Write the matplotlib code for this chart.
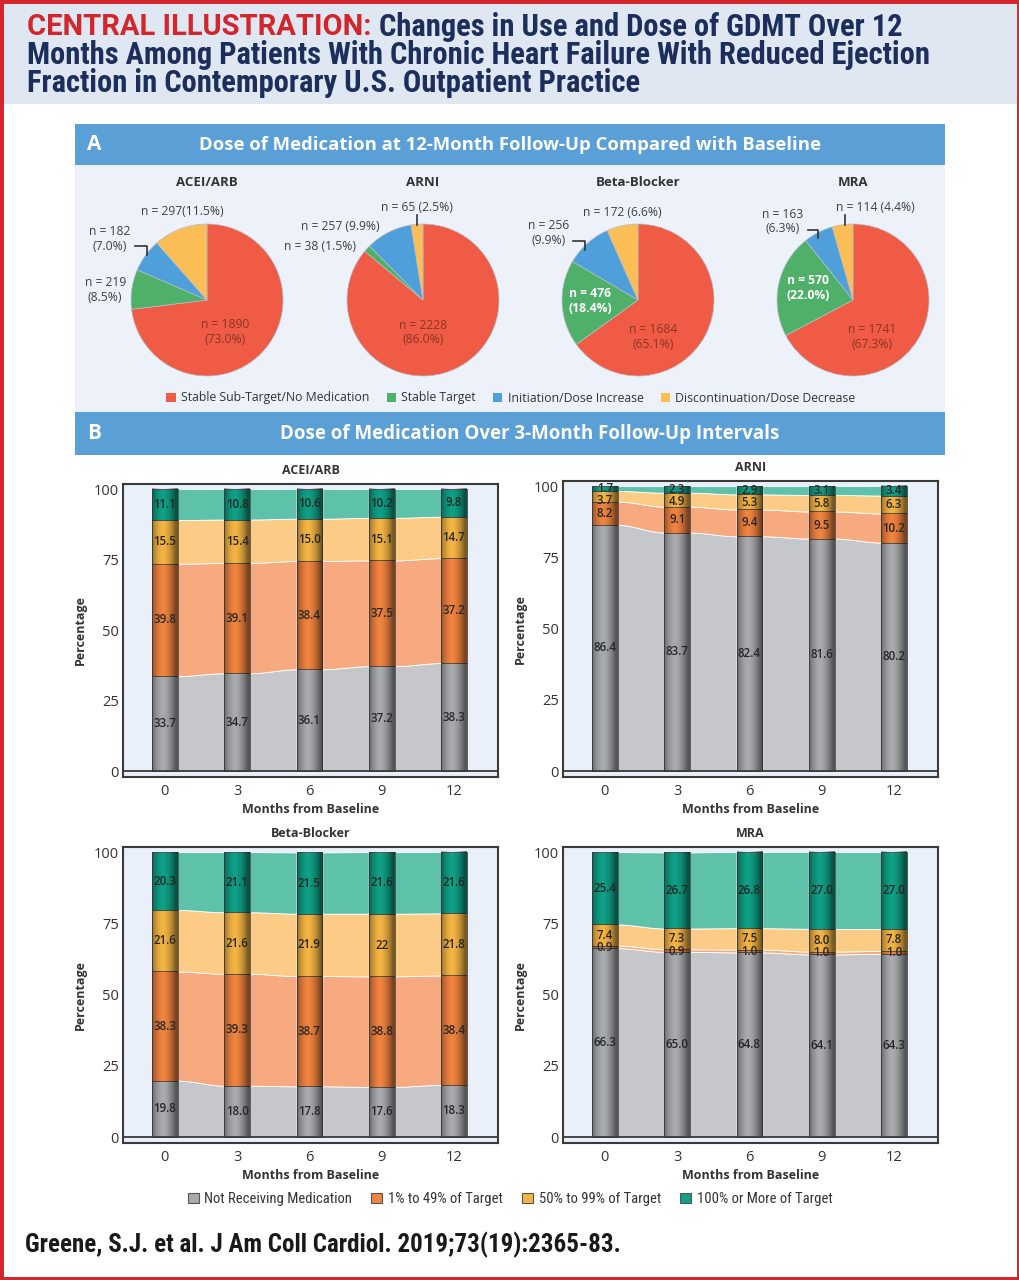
import numpy as np
import matplotlib
matplotlib.use('Agg')
import matplotlib.pyplot as plt
from matplotlib.patches import Rectangle, Patch
from matplotlib import font_manager

# fonts
installed = {f.name for f in font_manager.fontManager.ttflist}
COND = 'Roboto'
for name in ['Roboto Condensed', 'Liberation Sans Narrow', 'Open Sans Condensed']:
    if name in installed:
        COND = name
        break
plt.rcParams['font.family'] = ['Open Sans', 'DejaVu Sans']

W, H = 1020, 1280

# ---- Panel A data (pies) ----
pie_names = ['ACEI/ARB', 'ARNI', 'Beta-Blocker', 'MRA']
pie_cats = ['Stable Sub-Target/No Medication', 'Stable Target',
            'Initiation/Dose Increase', 'Discontinuation/Dose Decrease']
acei_n = [1890, 219, 182, 297]
arni_n = [2228, 38, 257, 65]
beta_n = [1684, 476, 256, 172]
mra_n = [1741, 570, 163, 114]
acei_pct = [73.0, 8.5, 7.0, 11.5]
arni_pct = [86.0, 1.5, 9.9, 2.5]
beta_pct = [65.1, 18.4, 9.9, 6.6]
mra_pct = [67.3, 22.0, 6.3, 4.4]

# ---- Panel B data (stacked bars) ----
months = [0, 3, 6, 9, 12]
bar_cats = ['Not Receiving Medication', '1% to 49% of Target',
            '50% to 99% of Target', '100% or More of Target']
acei_none = [33.7, 34.7, 36.1, 37.2, 38.3]
acei_low = [39.8, 39.1, 38.4, 37.5, 37.2]
acei_mid = [15.5, 15.4, 15.0, 15.1, 14.7]
acei_full = [11.1, 10.8, 10.6, 10.2, 9.8]
arni_none = [86.4, 83.7, 82.4, 81.6, 80.2]
arni_low = [8.2, 9.1, 9.4, 9.5, 10.2]
arni_mid = [3.7, 4.9, 5.3, 5.8, 6.3]
arni_full = [1.7, 2.3, 2.9, 3.1, 3.4]
beta_none = [19.8, 18.0, 17.8, 17.6, 18.3]
beta_low = [38.3, 39.3, 38.7, 38.8, 38.4]
beta_mid = [21.6, 21.6, 21.9, 22, 21.8]
beta_full = [20.3, 21.1, 21.5, 21.6, 21.6]
mra_none = [66.3, 65.0, 64.8, 64.1, 64.3]
mra_low = [0.9, 0.9, 1.0, 1.0, 1.0]
mra_mid = [7.4, 7.3, 7.5, 8.0, 7.8]
mra_full = [25.4, 26.7, 26.8, 27.0, 27.0]

pie_colors = ['#ef5b45', '#4fb06a', '#4f9fdb', '#fbbd55']
bar_colors = ['#a9aaae', '#f0833f', '#f4b443', '#0fa085']
flow_colors = ['#c6c7cb', '#f7a97f', '#fccb85', '#5ec2ab']
navy = '#1c2f5c'
red = '#d2262c'
band = '#5a9fd6'


def fbox(x0, y0, x1, y1):
    return [x0 / W, 1 - y1 / H, (x1 - x0) / W, (y1 - y0) / H]


def ftext(x, y, s, **kw):
    return fig.text(x / W, 1 - y / H, s, **kw)


def fig_rect(x0, y0, x1, y1, color):
    fig.patches.append(Rectangle((x0 / W, 1 - y1 / H), (x1 - x0) / W, (y1 - y0) / H,
                                 transform=fig.transFigure, facecolor=color,
                                 edgecolor='none', zorder=-5))


fig = plt.figure(figsize=(10.2, 12.8), dpi=100)
fig.patch.set_facecolor('white')

# header
fig_rect(0, 0, W, 104, '#dfe7f2')
HS = 22
t1 = ftext(27, 27, 'CENTRAL ILLUSTRATION: ', color=red, fontsize=21,
           fontweight='bold', family='Roboto', va='center')
fig.canvas.draw()
bb = t1.get_window_extent(fig.canvas.get_renderer())
ftext(bb.x1, 27, 'Changes in Use and Dose of GDMT Over 12', color=navy,
      fontsize=HS, fontweight='bold', family=COND, va='center')
ftext(27, 55, 'Months Among Patients With Chronic Heart Failure With Reduced Ejection',
      color=navy, fontsize=HS, fontweight='bold', family=COND, va='center')
ftext(27, 83, 'Fraction in Contemporary U.S. Outpatient Practice',
      color=navy, fontsize=HS, fontweight='bold', family=COND, va='center')

# panel A background and bands
fig_rect(75, 124, 945, 412, '#edf2fa')
for y0, y1, letter, title, tx, fs in [(124, 165, 'A', 'Dose of Medication at 12-Month Follow-Up Compared with Baseline', 510, 13.3),
                                      (412, 455, 'B', 'Dose of Medication Over 3-Month Follow-Up Intervals', 530, 13.5)]:
    fig_rect(75, y0, 945, y1, band)
    ftext(87, (y0 + y1) / 2, letter, color='white', fontsize=15, fontweight='bold', va='center')
    ftext(tx, (y0 + y1) / 2, title, color='white', fontsize=fs, fontweight='bold',
          va='center', ha='center')

# ---- pies ----
pie_n = [acei_n, arni_n, beta_n, mra_n]
pie_p = [acei_pct, arni_pct, beta_pct, mra_pct]
centers = [207, 423, 638, 853]
R = 76
# label offsets in pie radii (dx, dy) for each slice
label_pos = [
    [(0.24, -0.42), (-1.34, 0.13), (-1.28, 0.80), (-0.33, 1.16)],
    [(0.0, -0.43), (-1.36, 0.70), (-1.09, 0.97), (-0.08, 1.22)],
    [(0.2, -0.49), (-0.63, -0.01), (-1.18, 0.88), (-0.21, 1.15)],
    [(0.25, -0.49), (-0.59, 0.16), (-0.92, 1.03), (0.29, 1.22)],
]
two_line = [
    [True, True, True, False],
    [True, False, False, False],
    [True, True, True, False],
    [True, True, True, False],
]
leaders = [
    [[-0.95, -0.79, -0.79], [0.71, 0.71, 0.59]],
    [[-0.08, -0.08], [1.12, 0.99]],
    [[-0.86, -0.70, -0.70], [0.78, 0.78, 0.66]],
    [[-0.59, -0.46, -0.46], [0.92, 0.92, 0.82], [-0.105, -0.105], [1.12, 0.99]],
]
for i in range(4):
    cx = centers[i]
    ax = fig.add_axes(fbox(cx - R, 300 - R, cx + R, 300 + R))
    ax.pie(pie_n[i], colors=pie_colors, startangle=90, counterclock=False,
           wedgeprops=dict(edgecolor='#b8bcc4', linewidth=0.5))
    ax.set_xlim(-1, 1)
    ax.set_ylim(-1, 1)
    ax.set_aspect('equal')
    ax.axis('off')
    ftext(cx, 182, pie_names[i], ha='center', va='center', fontsize=9.5,
          fontweight='bold', color='#333333')
    for j in range(4):
        n, p = pie_n[i][j], pie_p[i][j]
        if i == 0 and j == 3:
            s = f'n = {n}({p:.1f}%)'
        elif two_line[i][j]:
            s = f'n = {n}\n({p:.1f}%)'
        else:
            s = f'n = {n} ({p:.1f}%)'
        dx, dy = label_pos[i][j]
        if j == 0:
            col, wt = '#8a3526', 'normal'
        elif j == 1 and i in (2, 3):
            col, wt = 'white', 'bold'
        else:
            col, wt = '#404040', 'normal'
        ax.text(dx, dy, s, ha='center', va='center', fontsize=8.7, color=col,
                fontweight=wt, linespacing=1.15, clip_on=False)
    L = leaders[i]
    for k in range(0, len(L), 2):
        ax.plot(L[k], L[k + 1], color='#333333', lw=1.2, clip_on=False)

fig.legend(handles=[Patch(facecolor=c, edgecolor='none') for c in pie_colors],
           labels=pie_cats, loc='center', bbox_to_anchor=(511 / W, 1 - 398 / H),
           ncol=4, frameon=False, fontsize=8.8, handlelength=0.75, handleheight=0.75,
           handletextpad=0.45, columnspacing=1.4, labelcolor='#333333')

# ---- stacked bars with flows ----
bar_sets = [
    ('ACEI/ARB', [acei_none, acei_low, acei_mid, acei_full], (123, 484, 498, 777)),
    ('ARNI', [arni_none, arni_low, arni_mid, arni_full], (563, 481, 938, 777)),
    ('Beta-Blocker', [beta_none, beta_low, beta_mid, beta_full], (123, 847, 498, 1143)),
    ('MRA', [mra_none, mra_low, mra_mid, mra_full], (563, 847, 938, 1143)),
]
bw = 1.07
u = np.linspace(-1, 1, 80)
shade = np.zeros((1, 80, 4))
shade[0, :, 3] = np.clip(0.5 * np.abs(u + 0.15) ** 1.7, 0, 0.5)
gap = 4.3  # min vertical spacing between value labels (data units)

for title, series, (x0, y0, x1, y1) in bar_sets:
    ax = fig.add_axes(fbox(x0, y0, x1, y1))
    ax.set_facecolor('#e9f0fa')
    vals = np.array(series, dtype=float)
    tops = np.cumsum(vals, axis=0)
    bots = tops - vals
    # flows between consecutive bars
    for t in range(len(months) - 1):
        xa = months[t] + bw / 2
        xb = months[t + 1] - bw / 2
        xs = np.linspace(xa, xb, 60)
        s = (xs - xa) / (xb - xa)
        s = s * s * (3 - 2 * s)
        for k in range(4):
            lo = bots[k, t] + (bots[k, t + 1] - bots[k, t]) * s
            hi = tops[k, t] + (tops[k, t + 1] - tops[k, t]) * s
            ax.fill_between(xs, lo, hi, color=flow_colors[k], lw=0.6,
                            edgecolor='white', zorder=1)
    for k in range(4):
        ax.bar(months, vals[k], bottom=bots[k], width=bw, color=bar_colors[k],
               edgecolor='#4a4a4a', linewidth=0.6, zorder=2)
    for t, m in enumerate(months):
        prev = None
        for k in range(3, -1, -1):
            y = bots[k, t] + vals[k, t] / 2
            if prev is not None:
                y = min(y, prev - gap)
            prev = y
            ax.text(m, y, str(series[k][t]), ha='center', va='center', fontsize=8.3,
                    fontweight='semibold', color='#262626', zorder=5)
        ax.imshow(shade, extent=[m - bw / 2, m + bw / 2, 0, tops[3, t]], aspect='auto',
                  interpolation='bilinear', zorder=3)
    ax.axhline(0, color='#3a3a3a', lw=1.3, zorder=4)
    ax.set_xlim(-1.74, 13.83)
    ax.set_ylim(-2.1, 101.8)
    ax.set_xticks(months)
    ax.set_yticks([0, 25, 50, 75, 100])
    ax.tick_params(length=0, labelsize=10.5, labelcolor='#333333')
    ax.tick_params(axis='x', pad=5)
    ax.tick_params(axis='y', pad=3)
    for sp in ax.spines.values():
        sp.set_color('#3a3a3a')
        sp.set_linewidth(1.5)
    ax.set_title(title, fontsize=9, fontweight='bold', color='#333333', pad=7)
    ax.set_xlabel('Months from Baseline', fontsize=9, fontweight='bold',
                  color='#333333', labelpad=3)
    ax.set_ylabel('Percentage', fontsize=9, fontweight='bold', color='#333333',
                  labelpad=5)

fig.legend(handles=[Patch(facecolor=c, edgecolor='#555555', lw=0.8) for c in bar_colors],
           labels=bar_cats, loc='center', bbox_to_anchor=(510 / W, 1 - 1199 / H),
           ncol=4, frameon=False, handlelength=0.75, handleheight=0.75,
           handletextpad=0.4, columnspacing=1.3, labelcolor='#333333',
           prop=dict(family=COND, size=10.5))

ftext(25, 1245, 'Greene, S.J. et al. J Am Coll Cardiol. 2019;73(19):2365-83.',
      fontsize=18, fontweight='bold', family=COND, color='#1a1a1a', va='center')

# red outer border
fig.patches.append(Rectangle((0, 0), 1, 1, transform=fig.transFigure, fill=False,
                             edgecolor=red, linewidth=5, zorder=10))

fig.savefig('out.png', dpi=100)
